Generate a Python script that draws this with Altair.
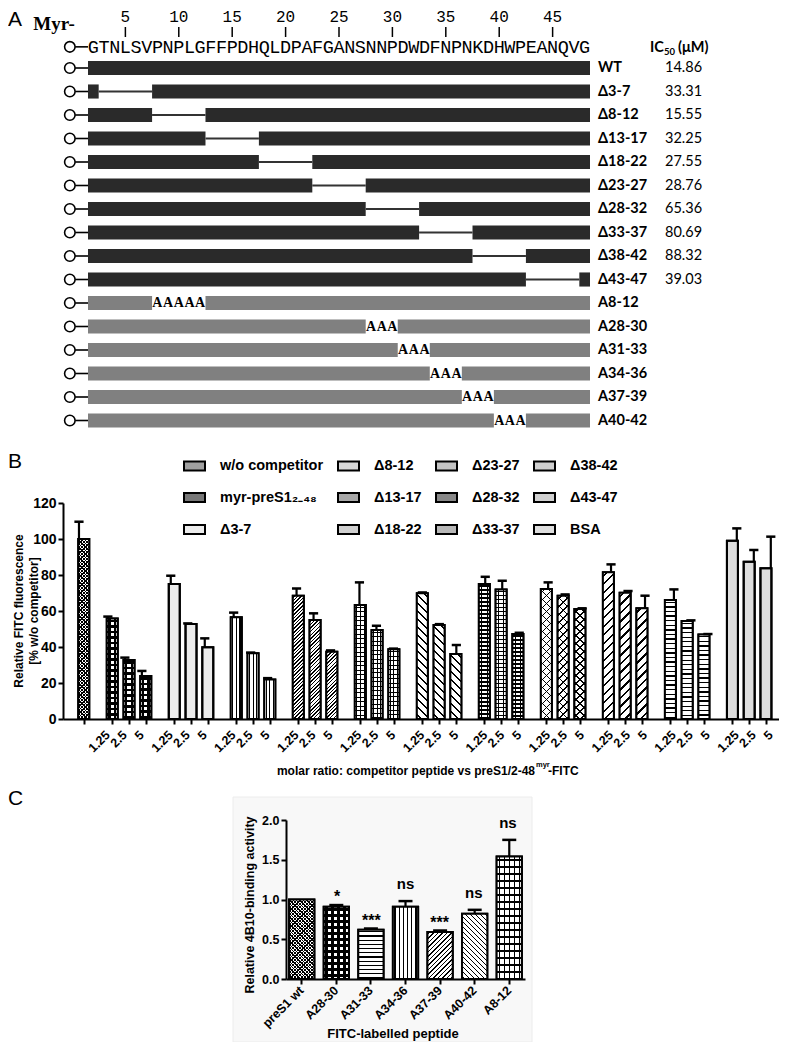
import altair as alt
import pandas as pd

W, H = 771, 1034
SANS, MONO, SERIF, HUM = "Liberation Sans", "Liberation Mono", "Liberation Serif", "Lato"

# ---------------- Panel A: preS1 constructs
SEQUENCE = "GTNLSVPNPLGFFPDHQLDPAFGANSNNPDWDFNPNKDHWPEANQVG"
SEQ_FIRST = 2
POSITION_MARKS = [5, 10, 15, 20, 25, 30, 35, 40, 45]
DEL_LABELS = ["WT", "Δ3-7", "Δ8-12", "Δ13-17", "Δ18-22", "Δ23-27", "Δ28-32", "Δ33-37", "Δ38-42", "Δ43-47"]
DEL_FROM = [None, 3, 8, 13, 18, 23, 28, 33, 38, 43]
DEL_TO = [None, 7, 12, 17, 22, 27, 32, 37, 42, 47]
IC50_UM = ["14.86", "33.31", "15.55", "32.25", "27.55", "28.76", "65.36", "80.69", "88.32", "39.03"]
ALA_LABELS = ["A8-12", "A28-30", "A31-33", "A34-36", "A37-39", "A40-42"]
ALA_FROM = [8, 28, 31, 34, 37, 40]
ALA_TO = [12, 30, 33, 36, 39, 42]

# ---------------- Panel B: competition
B_SERIES = ["w/o competitor", "myr-preS1₂₋₄₈", "Δ3-7", "Δ8-12", "Δ13-17", "Δ18-22",
            "Δ23-27", "Δ28-32", "Δ33-37", "Δ38-42", "Δ43-47", "BSA"]
B_RATIOS = ["1.25", "2.5", "5"]
B_VALUES = [[100], [55.9, 32.8, 23.9], [75, 52.8, 39.8], [56.5, 36.5, 22], [68.5, 55, 37.4],
            [63.3, 49.4, 38.7], [69.8, 52.2, 36.1], [75, 72, 47.2], [72.2, 68.5, 61.1],
            [81.5, 70.2, 61.5], [66.1, 54.4, 47], [99, 87.4, 83.7]]
B_ERRORS = [[9.6], [1, 1.3, 2.8], [4.6, 0.3, 5], [2.6, 0.4, 0.7], [4, 3.7, 0.7],
            [12.6, 2.4, 0.4], [0.5, 0.5, 5], [4, 4.8, 0.7], [3.7, 0.7, 0.4],
            [4.4, 0.9, 7], [5.9, 0.4, 0.2], [6.9, 6.5, 17.6]]
B_TICKS = [0, 20, 40, 60, 80, 100, 120]

# ---------------- Panel C: 4B10 binding
C_PEPTIDES = ["preS1 wt", "A28-30", "A31-33", "A34-36", "A37-39", "A40-42", "A8-12"]
C_VALUES = [1.0, 0.91, 0.62, 0.91, 0.59, 0.82, 1.54]
C_ERRORS = [0.0, 0.02, 0.015, 0.07, 0.02, 0.05, 0.21]
C_SIGNIF = ["", "*", "***", "ns", "***", "ns", "ns"]
C_TICKS = [0, 0.5, 1.0, 1.5, 2.0]

# ---------------- styles
B_FILLS = ["#a0a0a0", "#777777", "#ececec", "#d8d8d8", "#a8a8a8", "#d0d0d0",
           "#c4c4c4", "#888888", "#b8b8b8", "#cfcfcf", "#d0d0d0", "#dedede"]
C_FILLS = ["#a0a0a0", "#777777", "#d0d0d0", "#d8d8d8", "#a8a8a8", "#b8b8b8", "#d0d0d0"]
# hatch overlays: (kind, period px, line fraction, transparent background)
B_PATTERNS = {"w/o competitor": [("/", 3.4, 0.4, False), ("\\", 3.4, 0.4, True)],
              "myr-preS1₂₋₄₈": [("v", 5.5, 0.45, False), ("h", 5.5, 0.45, True)],
              "Δ8-12": [("v", 3.7, 0.3, False)],
              "Δ13-17": [("/", 3.6, 0.42, False)],
              "Δ18-22": [("v", 3.7, 0.25, False), ("h", 4.5, 0.25, True)],
              "Δ23-27": [("\\", 8, 0.3, False)],
              "Δ28-32": [("h", 4, 0.4, False), ("v", 5.5, 0.15, True)],
              "Δ33-37": [("/", 8, 0.2, False), ("\\", 8, 0.2, True)],
              "Δ38-42": [("/", 8.5, 0.25, False)],
              "Δ43-47": [("h", 4.6, 0.28, False)]}
C_PATTERNS = {"preS1 wt": [("/", 3.4, 0.4, False), ("\\", 3.4, 0.4, True)],
              "A28-30": [("v", 6, 0.45, False), ("h", 6, 0.45, True)],
              "A31-33": [("h", 4.2, 0.28, False)],
              "A34-36": [("v", 4.2, 0.28, False)],
              "A37-39": [("/", 4.5, 0.35, False)],
              "A40-42": [("\\", 5, 0.35, False)],
              "A8-12": [("v", 5, 0.2, False), ("h", 7, 0.18, True)]}
DARK, GRAY = "#2a2a2a", "#808080"
B_BAR_W = 11


def hatch(kind, w, h, period, frac, clear):
    """Linear-gradient hatch for a bar of w x h pixels (bounding-box units)."""
    bg = "rgba(255,255,255,0)" if clear else "white"
    if kind == "v":
        n, vec, tmax = w / period, (0, 0, 1, 0), 1.0
    elif kind == "h":
        n, vec, tmax = max(h, 1) / period, (0, 0, 0, 1), 1.0
    else:
        h = max(h, 1)
        n = (w * w + h * h) / (w * period)
        tmax = min(1.0, w * (w + h) / (w * w + h * h) + 1.5 / n)
        vec = (0, 0, 1, h / w) if kind == "/" else (1, 0, 0, h / w)
    half = frac / (2 * n)
    stops = [{"offset": 0, "color": bg}]
    k = 0
    while (k + 0.5) / n < tmax:
        c = (k + 0.5) / n
        a, b = max(c - half, 0), min(c + half, 1)
        stops += [{"offset": a, "color": bg}, {"offset": a, "color": "black"},
                  {"offset": b, "color": "black"}, {"offset": b, "color": bg}]
        k += 1
    stops.append({"offset": 1, "color": bg})
    return {"gradient": "linear", "x1": vec[0], "y1": vec[1], "x2": vec[2], "y2": vec[3], "stops": stops}


def note(text, x, y, size=12, weight="normal", font=SANS, align="left",
         baseline="middle", angle=0):
    return alt.Chart(pd.DataFrame({"t": [text]})).mark_text(
        fontSize=size, fontWeight=weight, font=font, align=align,
        baseline=baseline, angle=angle, color="black"
    ).encode(x=alt.value(x), y=alt.value(y), text="t:N")


layers = []

# ======================= Panel A =======================
seq_last = SEQ_FIRST + len(SEQUENCE) - 1
lo, hi = SEQ_FIRST - 0.5, seq_last + 0.5
dark, gaps, gray, ala = [], [], [], []
for r, (a, b) in enumerate(zip(DEL_FROM, DEL_TO)):
    if a is None:
        dark.append({"row": r, "x0": lo, "x1": hi})
    else:
        dark += [{"row": r, "x0": lo, "x1": a - 0.5}, {"row": r, "x0": b + 0.5, "x1": hi}]
        gaps.append({"row": r, "x0": a - 0.5, "x1": b + 0.5})
n_del = len(DEL_LABELS)
for k, (a, b) in enumerate(zip(ALA_FROM, ALA_TO)):
    r = n_del + k
    gray += [{"row": r, "x0": lo, "x1": a - 0.5}, {"row": r, "x0": b + 0.5, "x1": hi}]
    ala += [{"row": r, "pos": p, "aa": "A"} for p in range(a, b + 1)]

SEQ_ROW = -0.9
n_rows = n_del + len(ALA_LABELS)
xA = alt.Scale(domain=[lo, hi], range=[80, 582], nice=False, zero=False)
yA = alt.Scale(domain=[0, n_rows - 1], range=[60, 412.5], nice=False, zero=False)


def XA(f):
    return alt.X(f, scale=xA, axis=None)


def YA(f):
    return alt.Y(f, scale=yA, axis=None)


df_marks = pd.DataFrame({"pos": POSITION_MARKS, "lab": [str(p) for p in POSITION_MARKS]})
df_seq = pd.DataFrame({"pos": list(range(SEQ_FIRST, seq_last + 1)), "ch": list(SEQUENCE), "row": SEQ_ROW})
df_anchor = pd.DataFrame({"row": [SEQ_ROW] + list(range(n_rows))})

layers.append(note("A", 0, 12, size=21, font=SANS))
layers.append(note("Myr-", 46, 16, size=19, weight="bold", font=SERIF, align="center"))
layers.append(alt.Chart(df_marks).mark_rule(strokeWidth=1.5, color="black").encode(
    x=XA("pos:Q"), y=alt.value(19), y2=alt.value(29)))
layers.append(alt.Chart(df_marks).mark_text(font=MONO, fontSize=16, color="black").encode(
    x=XA("pos:Q"), y=alt.value(9), text="lab:N"))
layers.append(alt.Chart(df_seq).mark_text(font=MONO, fontSize=18.5, color="black", baseline="middle").encode(
    x=XA("pos:Q"), y=YA("row:Q"), text="ch:N"))
layers.append(alt.Chart(df_anchor).mark_rule(strokeWidth=1.6, color="black").encode(
    x=XA("c0:Q"), x2="c1:Q", y=YA("row:Q")).transform_calculate(c0="0.3", c1=str(lo)))
layers.append(alt.Chart(df_anchor).mark_point(shape="circle", filled=False, size=110, strokeWidth=1.6,
                                              color="black", opacity=1).encode(
    x=XA("cx:Q"), y=YA("row:Q")).transform_calculate(cx="-0.2"))
layers.append(alt.Chart(pd.DataFrame(gaps)).mark_rule(strokeWidth=2, color="#333333").encode(
    x=XA("x0:Q"), x2="x1:Q", y=YA("row:Q")))
layers.append(alt.Chart(pd.DataFrame(dark)).mark_rect(color=DARK).encode(
    x=XA("x0:Q"), x2="x1:Q", y=YA("y0:Q"), y2="y1:Q"
).transform_calculate(y0="datum.row - 0.3", y1="datum.row + 0.3"))
layers.append(alt.Chart(pd.DataFrame(gray)).mark_rect(color=GRAY).encode(
    x=XA("x0:Q"), x2="x1:Q", y=YA("y0:Q"), y2="y1:Q"
).transform_calculate(y0="datum.row - 0.3", y1="datum.row + 0.3"))
layers.append(alt.Chart(pd.DataFrame(ala)).mark_text(font=SERIF, fontSize=14, fontWeight="bold",
                                                     color="black", baseline="middle").encode(
    x=XA("pos:Q"), y=YA("row:Q"), text="aa:N"))
df_lab = pd.DataFrame({"row": list(range(n_rows)), "lab": DEL_LABELS + ALA_LABELS})
layers.append(alt.Chart(df_lab).mark_text(font=HUM, fontSize=14.5, fontWeight="bold", align="left",
                                          baseline="middle", color="black").encode(
    x=alt.value(590), y=YA("row:Q"), text="lab:N"))
df_ic = pd.DataFrame({"row": list(range(n_del)), "ic": IC50_UM})
layers.append(alt.Chart(df_ic).mark_text(font=HUM, fontSize=14.5, align="left",
                                         baseline="middle", color="black").encode(
    x=alt.value(657), y=YA("row:Q"), text="ic:N"))
layers.append(note("IC", 642, 40, size=14.5, weight="bold", font=HUM))
layers.append(note("50", 656, 44, size=9.5, weight="bold", font=HUM))
layers.append(note("(μM)", 670, 40, size=14.5, weight="bold", font=HUM))

# ======================= Panel B =======================
GROUP_GAP = 0.7
rowsB, start = [], 0.0
for g, name in enumerate(B_SERIES):
    for j, (v, e) in enumerate(zip(B_VALUES[g], B_ERRORS[g])):
        rowsB.append({"series": name, "pos": start + j, "val": v, "err": e,
                      "ratio": "" if len(B_VALUES[g]) == 1 else B_RATIOS[j]})
    start += len(B_VALUES[g]) + GROUP_GAP
dfB = pd.DataFrame(rowsB)
positions = [float(p) for p in dfB["pos"]]

B_Y0, B_Y1 = 711, 495
B_MAX = 120
b_px = (B_Y0 - B_Y1) / B_MAX
xB = alt.Scale(domain=[positions[0] - 0.94, positions[-1] + 0.6], range=[55, 773], nice=False, zero=False)
yB = alt.Scale(domain=[0, B_MAX], range=[B_Y0, B_Y1], nice=False, zero=False)
XB = alt.X("pos:Q", scale=xB, axis=None)
YB = alt.Y("val:Q", scale=yB, axis=None)

layers.append(note("B", 0, 454, size=21, font=SANS))
layers.append(alt.Chart(dfB).mark_bar(size=B_BAR_W, stroke="black", strokeWidth=2).encode(
    x=alt.X("pos:Q", scale=xB, axis=alt.Axis(
        orient="bottom", offset=-(H - B_Y0), values=positions, labels=False, tickSize=5, tickWidth=2,
        tickColor="black", domainColor="black", domainWidth=2, grid=False, title=None, zindex=1)),
    y=alt.Y("val:Q", scale=yB, axis=alt.Axis(
        orient="left", offset=-55, values=B_TICKS, tickSize=5, tickWidth=2, tickColor="black",
        domainColor="black", domainWidth=2, grid=False, title=None, labelFont=SANS, labelFontSize=14,
        labelFontWeight="bold", labelColor="black", labelPadding=2, zindex=1)),
    fill=alt.Fill("series:N", scale=alt.Scale(domain=B_SERIES, range=B_FILLS),
                  legend=alt.Legend(orient="none", legendX=175, legendY=446, columns=4, columnPadding=10,
                                    rowPadding=11, symbolType="M-1,-0.43H1V0.43H-1Z", symbolSize=441,
                                    symbolStrokeColor="black", symbolStrokeWidth=2, symbolOpacity=1,
                                    labelFont=SANS, labelFontSize=14.5, labelFontWeight="bold",
                                    labelColor="black", labelOffset=14, labelLimit=300, title=None))))
for rec in rowsB:
    for p in B_PATTERNS.get(rec["series"], []):
        layers.append(alt.Chart(dfB).transform_filter(alt.datum.pos == rec["pos"]).mark_bar(
            size=B_BAR_W, fill=hatch(p[0], B_BAR_W, rec["val"] * b_px, p[1], p[2], p[3]),
            strokeWidth=0).encode(x=XB, y=YB))
layers.append(alt.Chart(dfB).mark_bar(size=B_BAR_W, fill="transparent", stroke="black", strokeWidth=2).encode(
    x=XB, y=YB))
layers.append(alt.Chart(dfB).mark_rule(strokeWidth=2.2, color="black").encode(
    x=XB, y=YB, y2="top:Q").transform_calculate(top="datum.val + datum.err"))
layers.append(alt.Chart(dfB).mark_rule(strokeWidth=2.5, color="black").encode(
    x=alt.X("c0:Q", scale=xB, axis=None), x2="c1:Q", y=alt.Y("top:Q", scale=yB, axis=None)
).transform_calculate(top="datum.val + datum.err", c0="datum.pos - 0.27", c1="datum.pos + 0.27"))
layers.append(alt.Chart(dfB).transform_filter("datum.ratio != ''").mark_text(
    angle=315, align="right", baseline="middle", font=SANS, fontSize=12.5, fontWeight="bold",
    color="black").encode(x=XB, y=alt.value(725), text="ratio:N"))
layers.append(note("Relative FITC fluorescence", 11, 603, size=12, weight="bold", align="center", angle=270))
layers.append(note("[% w/o competitor]", 26, 603, size=12, weight="bold", align="center", angle=270))
layers.append(note("molar ratio: competitor peptide vs preS1/2-48", 527, 763, size=12, weight="bold", align="right"))
layers.append(note("myr", 528, 757, size=7.5, weight="bold"))
layers.append(note("-FITC", 540, 763, size=12, weight="bold"))

# ======================= Panel C =======================
dfC = pd.DataFrame({"pep": C_PEPTIDES, "val": C_VALUES, "err": C_ERRORS, "sig": C_SIGNIF})
C_Y0, C_Y1 = 971, 812
C_X0, C_X1 = 278, 517
C_PAD_IN, C_PAD_OUT = 0.27, 0.09
C_MAX = 2
c_px = (C_Y0 - C_Y1) / C_MAX
c_step = (C_X1 - C_X0) / (len(C_PEPTIDES) - C_PAD_IN + 2 * C_PAD_OUT)
c_bw = c_step * (1 - C_PAD_IN)
xC = alt.Scale(domain=C_PEPTIDES, range=[C_X0, C_X1], paddingInner=C_PAD_IN, paddingOuter=C_PAD_OUT)
yC = alt.Scale(domain=[0, C_MAX], range=[C_Y0, C_Y1], nice=False, zero=False)
XC = alt.X("pep:N", scale=xC, sort=C_PEPTIDES, axis=None)
YC = alt.Y("val:Q", scale=yC, axis=None)

layers.append(alt.Chart(pd.DataFrame({"a": [0]})).mark_rect(fill="#f8f8f8", stroke="#ececec").encode(
    x=alt.value(225), x2=alt.value(524), y=alt.value(789), y2=alt.value(H)))
layers.append(note("C", 0, 791, size=21, font=SANS))
layers.append(alt.Chart(dfC).mark_bar(stroke="black", strokeWidth=2).encode(
    x=alt.X("pep:N", scale=xC, sort=C_PEPTIDES, axis=alt.Axis(
        orient="bottom", offset=-(H - C_Y0), labelAngle=-45, labelAlign="right", labelBaseline="middle",
        labelFont=SANS, labelFontSize=12.5, labelFontWeight="bold", labelColor="black", labelPadding=4,
        tickSize=5, tickWidth=2, tickColor="black", domainColor="black", domainWidth=2, title=None,
        zindex=1)),
    y=alt.Y("val:Q", scale=yC, axis=alt.Axis(
        orient="left", offset=-278, values=C_TICKS, format=".1f", tickSize=5, tickWidth=2,
        tickColor="black", domainColor="black", domainWidth=2, grid=False, title=None, labelFont=SANS,
        labelFontSize=12.5, labelFontWeight="bold", labelColor="black", labelPadding=2, zindex=1)),
    fill=alt.Fill("pep:N", scale=alt.Scale(domain=C_PEPTIDES, range=C_FILLS), legend=None)))
for pep, val in zip(C_PEPTIDES, C_VALUES):
    for p in C_PATTERNS.get(pep, []):
        layers.append(alt.Chart(dfC).transform_filter(alt.datum.pep == pep).mark_bar(
            fill=hatch(p[0], c_bw, val * c_px, p[1], p[2], p[3]), strokeWidth=0).encode(x=XC, y=YC))
layers.append(alt.Chart(dfC).mark_bar(fill="transparent", stroke="black", strokeWidth=2).encode(x=XC, y=YC))
errC = alt.Chart(dfC).transform_filter("datum.err > 0").transform_calculate(top="datum.val + datum.err")
layers.append(errC.mark_rule(strokeWidth=2.2, color="black").encode(x=XC, y=YC, y2="top:Q"))
layers.append(errC.mark_tick(size=14, thickness=2.5, color="black", opacity=1).encode(
    x=XC, y=alt.Y("top:Q", scale=yC, axis=None)))
sigC = alt.Chart(dfC).transform_calculate(top="datum.val + datum.err")
layers.append(sigC.transform_filter("datum.sig == 'ns'").mark_text(
    font=SANS, fontSize=15, fontWeight="bold", color="black", baseline="middle", dy=-17).encode(
    x=XC, y=alt.Y("top:Q", scale=yC, axis=None), text="sig:N"))
layers.append(sigC.transform_filter("indexof(datum.sig, '*') >= 0").mark_text(
    font=SANS, fontSize=16, fontWeight="bold", color="black", baseline="middle", dy=-8).encode(
    x=XC, y=alt.Y("top:Q", scale=yC, axis=None), text="sig:N"))
layers.append(note("Relative 4B10-binding activity", 242, 897, size=12.5, weight="bold", align="center", angle=270))
layers.append(note("FITC-labelled peptide", 385, 1030, size=13, weight="bold", align="center",
                   baseline="alphabetic"))

chart = alt.layer(*layers).properties(
    width=W, height=H, autosize=alt.AutoSizeParams(type="none"), padding=0, background="white"
).resolve_scale(x="independent", y="independent", fill="independent").configure_view(stroke=None)

chart.save("out.html", embed_options={"renderer": "svg", "actions": False})
